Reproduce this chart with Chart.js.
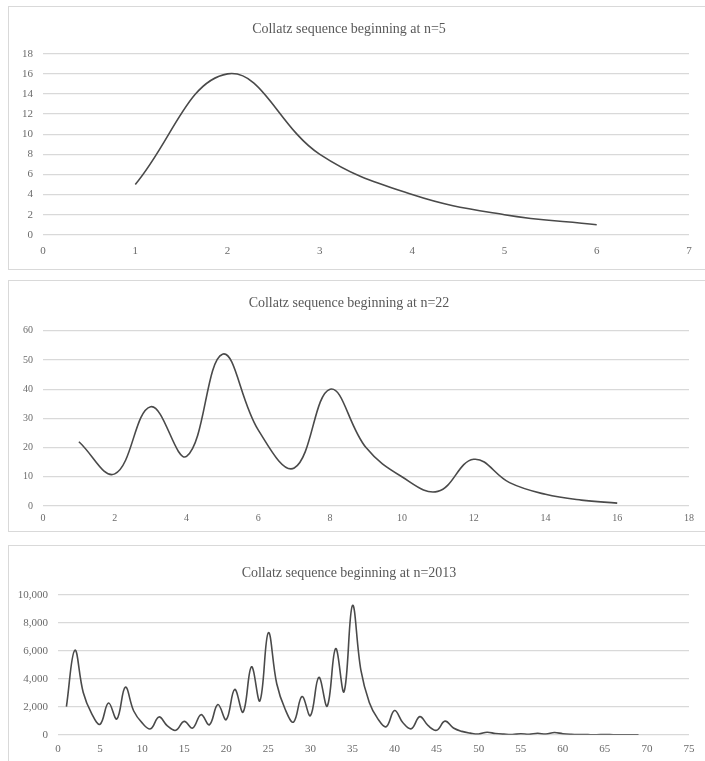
<!DOCTYPE html>
<html>
<head>
<meta charset="utf-8">
<script src="https://cdn.jsdelivr.net/npm/chart.js@4"></script>
<style>
  body { margin: 0; background: #fff; overflow: hidden; }
  .box { position: absolute; left: 8px; width: 720px; border: 1px solid #d9d9d9; background: #fff; }
  canvas { display: block; }
</style>
</head>
<body>
<div class="box" style="top:6px;height:262px"><canvas id="c1" width="697" height="262"></canvas></div>
<div class="box" style="top:280px;height:250px"><canvas id="c2" width="697" height="250"></canvas></div>
<div class="box" style="top:545px;height:230px"><canvas id="c3" width="697" height="230"></canvas></div>
<script>
// step number and value of each Collatz sequence
const steps5 = [1, 2, 3, 4, 5, 6];
const vals5 = [5, 16, 8, 4, 2, 1];

const steps22 = [1, 2, 3, 4, 5, 6, 7, 8, 9, 10, 11, 12, 13, 14, 15, 16];
const vals22 = [22, 11, 34, 17, 52, 26, 13, 40, 20, 10, 5, 16, 8, 4, 2, 1];

const steps2013 = [1, 2, 3, 4, 5, 6, 7, 8, 9, 10, 11, 12, 13, 14, 15, 16, 17, 18, 19, 20,
  21, 22, 23, 24, 25, 26, 27, 28, 29, 30, 31, 32, 33, 34, 35, 36, 37, 38, 39, 40,
  41, 42, 43, 44, 45, 46, 47, 48, 49, 50, 51, 52, 53, 54, 55, 56, 57, 58, 59, 60,
  61, 62, 63, 64, 65, 66, 67, 68, 69];
const vals2013 = [2013, 6040, 3020, 1510, 755, 2266, 1133, 3400, 1700, 850,
  425, 1276, 638, 319, 958, 479, 1438, 719, 2158, 1079,
  3238, 1619, 4858, 2429, 7288, 3644, 1822, 911, 2734, 1367,
  4102, 2051, 6154, 3077, 9232, 4616, 2308, 1154, 577, 1732,
  866, 433, 1300, 650, 325, 976, 488, 244, 122, 61,
  184, 92, 46, 23, 70, 35, 106, 53, 160, 80,
  40, 20, 10, 5, 16, 8, 4, 2, 1];

const serif = "'Liberation Serif', 'DejaVu Serif', serif";
const textGray = '#6b6b6b';
const gridGray = '#d9d9d9';

function makeChart(id, title, xs, ys, cfg) {
  new Chart(id, {
    type: 'scatter',
    data: {
      datasets: [{
        data: xs.map((x, i) => ({ x: x, y: ys[i] })),
        showLine: true,
        borderColor: '#4a4a4a',
        borderWidth: 1.6,
        pointRadius: 0,
        tension: 0.4
      }]
    },
    options: {
      responsive: false,
      animation: false,
      layout: { padding: { left: 0, right: 17, top: cfg.titleTop, bottom: cfg.bottom } },
      plugins: {
        legend: { display: false },
        tooltip: { enabled: false },
        title: {
          display: true,
          text: title,
          color: '#595959',
          font: { family: serif, size: 14, weight: 'normal' },
          padding: { top: 0, bottom: cfg.titleBottom }
        }
      },
      scales: {
        x: {
          type: 'linear',
          min: 0,
          max: cfg.xMax,
          grid: { display: false, drawTicks: false },
          border: { display: false },
          ticks: { stepSize: cfg.xStep, color: textGray, padding: cfg.xPad,
                   font: { family: serif, size: cfg.tickSize } }
        },
        y: {
          min: 0,
          max: cfg.yMax,
          afterFit: s => { s.width = cfg.yWidth; },
          grid: { color: gridGray, lineWidth: 1.3, drawTicks: false },
          border: { display: false },
          ticks: { stepSize: cfg.yStep, color: textGray, padding: 10,
                   font: { family: serif, size: cfg.tickSize },
                   callback: v => v.toLocaleString('en-US') }
        }
      }
    }
  });
}

makeChart('c1', 'Collatz sequence beginning at n=5', steps5, vals5,
  { xMax: 7, xStep: 1, yMax: 18, yStep: 2, yWidth: 34, tickSize: 11,
    titleTop: 14, titleBottom: 16, xPad: 10, bottom: 1 });

makeChart('c2', 'Collatz sequence beginning at n=22', steps22, vals22,
  { xMax: 18, xStep: 2, yMax: 60, yStep: 10, yWidth: 34, tickSize: 10,
    titleTop: 14, titleBottom: 19, xPad: 6, bottom: 1 });

makeChart('c3', 'Collatz sequence beginning at n=2013', steps2013, vals2013,
  { xMax: 75, xStep: 5, yMax: 10000, yStep: 2000, yWidth: 49, tickSize: 11,
    titleTop: 19, titleBottom: 13, xPad: 8, bottom: 12 });
</script>
</body>
</html>
